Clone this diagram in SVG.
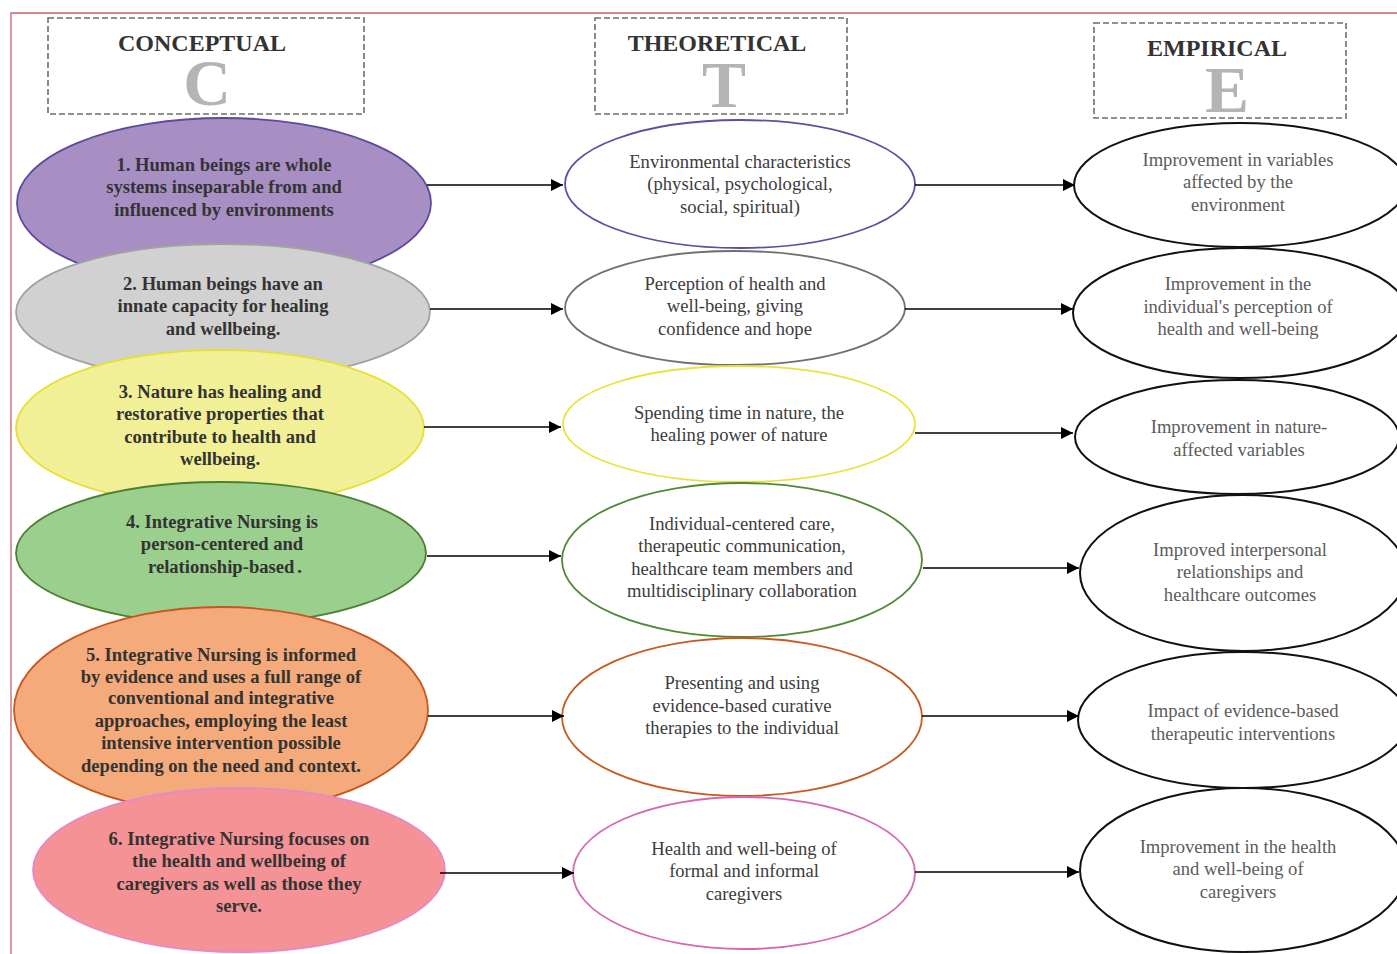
<svg xmlns="http://www.w3.org/2000/svg" width="1397" height="954" viewBox="0 0 1397 954">
<style>
.hdr{fill:none;stroke:#6d6d6d;stroke-width:1.6;stroke-dasharray:6 3}
.ht{font-family:"Liberation Serif",serif;font-weight:bold;font-size:24px;fill:#333;text-anchor:middle}
.big{font-family:"Liberation Serif",serif;font-weight:bold;font-size:66px;fill:#b3b4b6;text-anchor:middle}
.lt{font-family:"Liberation Serif",serif;font-weight:bold;font-size:18.6px;fill:#333;text-anchor:middle}
.mt{font-family:"Liberation Serif",serif;font-size:18.6px;fill:#3c3c3c;text-anchor:middle}
.rt{font-family:"Liberation Serif",serif;font-size:18.6px;fill:#5c5c5c;text-anchor:middle}
.le{stroke-width:1.8}
.me{fill:#fff;stroke-width:1.8}
.re{fill:#fff;stroke:#111;stroke-width:2}
.arr{stroke:#000;stroke-width:1.5;fill:none;marker-end:url(#ah)}
</style>
<defs>
<marker id="ah" markerUnits="userSpaceOnUse" markerWidth="13" markerHeight="12" refX="12" refY="6" orient="auto">
<path d="M0,0 L12,6 L0,12 z" fill="#000"/>
</marker>
</defs>
<rect width="1397" height="954" fill="#fff"/>
<g id="frame" fill="none" stroke="#c9606e" stroke-width="1.3">
<path d="M11,954 L11,13 L1397,13"/>
</g>

<g id="hdr-c">
<rect class="hdr" x="48" y="18" width="316" height="96"/>
<text class="ht" x="202" y="51">CONCEPTUAL</text>
<text class="big" x="207" y="105">C</text>
</g>
<g id="hdr-t">
<rect class="hdr" x="595" y="18" width="252" height="96"/>
<text class="ht" x="717" y="51">THEORETICAL</text>
<text class="big" x="724" y="107">T</text>
</g>
<g id="hdr-e">
<rect class="hdr" x="1094" y="23" width="252" height="95"/>
<text class="ht" x="1217" y="56">EMPIRICAL</text>
<text class="big" x="1227" y="112">E</text>
</g>

<g id="c1">
<ellipse class="le" cx="224" cy="203" rx="207" ry="85" fill="#a78fc3" stroke="#5a4aa0"/>
<text class="lt" x="224" y="171">1. Human beings are whole</text>
<text class="lt" x="224" y="193">systems inseparable from and</text>
<text class="lt" x="224" y="216">influenced by environments</text>
</g>
<g id="c2">
<ellipse class="le" cx="223" cy="312" rx="207" ry="68" fill="#d0d1d0" stroke="#a0a3a0"/>
<text class="lt" x="223" y="290">2. Human beings have an</text>
<text class="lt" x="223" y="312">innate capacity for healing</text>
<text class="lt" x="223" y="335">and wellbeing.</text>
</g>
<g id="c3">
<ellipse class="le" cx="220" cy="428" rx="204" ry="78" fill="#f2f096" stroke="#e6e032"/>
<text class="lt" x="220" y="398">3. Nature has healing and</text>
<text class="lt" x="220" y="420">restorative properties that</text>
<text class="lt" x="220" y="443">contribute to health and</text>
<text class="lt" x="220" y="465">wellbeing.</text>
</g>
<g id="c4">
<ellipse class="le" cx="221" cy="553" rx="205" ry="71" fill="#9acf8e" stroke="#4b7f32"/>
<text class="lt" x="222" y="528">4. Integrative Nursing is</text>
<text class="lt" x="222" y="550">person-centered and</text>
<text class="lt" x="225" y="573">relationship-based<tspan dx="3">.</tspan></text>
</g>
<g id="c5">
<ellipse class="le" cx="221" cy="710" rx="207" ry="103" fill="#f4aa7a" stroke="#c8561e"/>
<text class="lt" x="221" y="661">5. Integrative Nursing is informed</text>
<text class="lt" x="221" y="683">by evidence and uses a full range of</text>
<text class="lt" x="221" y="704">conventional and integrative</text>
<text class="lt" x="221" y="727">approaches, employing the least</text>
<text class="lt" x="221" y="749">intensive intervention possible</text>
<text class="lt" x="221" y="772">depending on the need and context.</text>
</g>
<g id="c6">
<ellipse class="le" cx="239" cy="870" rx="206" ry="82" fill="#f59295" stroke="#e58ac8"/>
<text class="lt" x="239" y="845">6. Integrative Nursing focuses on</text>
<text class="lt" x="239" y="867">the health and wellbeing of</text>
<text class="lt" x="239" y="890">caregivers as well as those they</text>
<text class="lt" x="239" y="912">serve.</text>
</g>

<g id="t1">
<ellipse class="me" cx="740" cy="184" rx="175" ry="64" stroke="#5a4fa5"/>
<text class="mt" x="740" y="168">Environmental characteristics</text>
<text class="mt" x="740" y="190">(physical, psychological,</text>
<text class="mt" x="740" y="213">social, spiritual)</text>
</g>
<g id="t2">
<ellipse class="me" cx="735" cy="308" rx="170" ry="57" stroke="#707070"/>
<text class="mt" x="735" y="290">Perception of health and</text>
<text class="mt" x="735" y="312">well-being, giving</text>
<text class="mt" x="735" y="335">confidence and hope</text>
</g>
<g id="t3">
<ellipse class="me" cx="739" cy="424" rx="176" ry="58" stroke="#e8e33a"/>
<text class="mt" x="739" y="419">Spending time in nature, the</text>
<text class="mt" x="739" y="441">healing power of nature</text>
</g>
<g id="t4">
<ellipse class="me" cx="742" cy="560" rx="180" ry="77" stroke="#4f8a35"/>
<text class="mt" x="742" y="530">Individual-centered care,</text>
<text class="mt" x="742" y="552">therapeutic communication,</text>
<text class="mt" x="742" y="575">healthcare team members and</text>
<text class="mt" x="742" y="597">multidisciplinary collaboration</text>
</g>
<g id="t5">
<ellipse class="me" cx="742" cy="717" rx="180" ry="79" stroke="#c85a1e"/>
<text class="mt" x="742" y="689">Presenting and using</text>
<text class="mt" x="742" y="712">evidence-based curative</text>
<text class="mt" x="742" y="734">therapies to the individual</text>
</g>
<g id="t6">
<ellipse class="me" cx="744" cy="873" rx="171" ry="76" stroke="#d966b0"/>
<text class="mt" x="744" y="855">Health and well-being of</text>
<text class="mt" x="744" y="877">formal and informal</text>
<text class="mt" x="744" y="900">caregivers</text>
</g>

<g id="e1">
<ellipse class="re" cx="1240" cy="185" rx="166" ry="62"/>
<text class="rt" x="1238" y="166">Improvement in variables</text>
<text class="rt" x="1238" y="188">affected by the</text>
<text class="rt" x="1238" y="211">environment</text>
</g>
<g id="e2">
<ellipse class="re" cx="1240" cy="313" rx="167" ry="65"/>
<text class="rt" x="1238" y="290">Improvement in the</text>
<text class="rt" x="1238" y="313">individual's perception of</text>
<text class="rt" x="1238" y="335">health and well-being</text>
</g>
<g id="e3">
<ellipse class="re" cx="1237" cy="437" rx="162" ry="57"/>
<text class="rt" x="1239" y="433">Improvement in nature-</text>
<text class="rt" x="1239" y="456">affected variables</text>
</g>
<g id="e4">
<ellipse class="re" cx="1243" cy="573" rx="163" ry="78"/>
<text class="rt" x="1240" y="556">Improved interpersonal</text>
<text class="rt" x="1240" y="578">relationships and</text>
<text class="rt" x="1240" y="601">healthcare outcomes</text>
</g>
<g id="e5">
<ellipse class="re" cx="1243" cy="720" rx="165" ry="68"/>
<text class="rt" x="1243" y="717">Impact of evidence-based</text>
<text class="rt" x="1243" y="740">therapeutic interventions</text>
</g>
<g id="e6">
<ellipse class="re" cx="1243" cy="870" rx="163" ry="82"/>
<text class="rt" x="1238" y="853">Improvement in the health</text>
<text class="rt" x="1238" y="875">and well-being of</text>
<text class="rt" x="1238" y="898">caregivers</text>
</g>

<g id="connectors">
<line class="arr" x1="427" y1="185" x2="563" y2="185"/>
<line class="arr" x1="915" y1="185" x2="1075" y2="185"/>
<line class="arr" x1="430" y1="309" x2="563" y2="309"/>
<line class="arr" x1="905" y1="309" x2="1073" y2="309"/>
<line class="arr" x1="424" y1="427" x2="561" y2="427"/>
<line class="arr" x1="915" y1="433" x2="1073" y2="433"/>
<line class="arr" x1="427" y1="556" x2="561" y2="556"/>
<line class="arr" x1="923" y1="568" x2="1079" y2="568"/>
<line class="arr" x1="428" y1="716" x2="564" y2="716"/>
<line class="arr" x1="922" y1="716" x2="1079" y2="716"/>
<line class="arr" x1="440" y1="873" x2="574" y2="873"/>
<line class="arr" x1="915" y1="872" x2="1079" y2="872"/>
</g>
</svg>
